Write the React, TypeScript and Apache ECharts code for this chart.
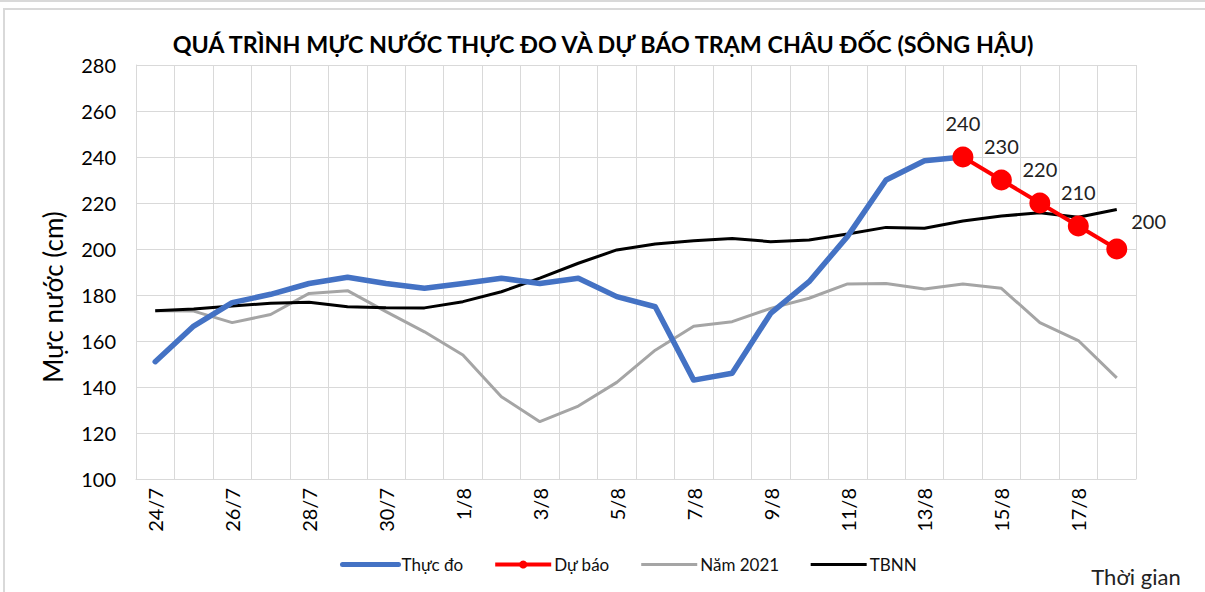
import React, { useEffect, useRef } from "react";
import * as echarts from "echarts";

const titleText = "QUÁ TRÌNH MỰC NƯỚC THỰC ĐO VÀ DỰ BÁO TRẠM CHÂU ĐỐC (SÔNG HẬU)";
const categories = [
  "24/7", "25/7", "26/7", "27/7", "28/7", "29/7", "30/7", "31/7",
  "1/8", "2/8", "3/8", "4/8", "5/8", "6/8", "7/8", "8/8", "9/8", "10/8",
  "11/8", "12/8", "13/8", "14/8", "15/8", "16/8", "17/8", "18/8",
];
const thucDo: (number | string)[] = [
  151, 166.5, 176.7, 180.3, 185, 187.7, 185, 182.9,
  185, 187.3, 185, 187.3, 179.3, 174.9, 143, 146, 172, 185.8,
  205.5, 230, 238.4, 240, "-", "-", "-", "-",
];
const duBao: (number | string)[] = [
  "-", "-", "-", "-", "-", "-", "-", "-",
  "-", "-", "-", "-", "-", "-", "-", "-", "-", "-",
  "-", "-", "-", 240, 230, 220, 210, 200,
];
const nam2021 = [
  173.2, 173, 168, 171.5, 180.7, 181.9, 172.8, 164,
  153.9, 135.8, 124.9, 131.7, 142, 156, 166.4, 168.4, 174.2, 178.6,
  184.8, 185, 182.6, 184.8, 182.9, 168, 160.2, 144,
];
const tbnn = [
  173.2, 173.9, 175.2, 176.4, 176.8, 174.9, 174.5, 174.4,
  177.1, 181.4, 187.3, 193.8, 199.6, 202.2, 203.6, 204.6, 203.2, 203.9,
  206.5, 209.4, 209, 212.2, 214.3, 215.8, 213.8, 217.2,
];
const yMin = 100;
const yMax = 280;
const yStep = 20;
const seriesNames = ["Thực đo", "Dự báo", "Năm 2021", "TBNN"];
const yAxisTitle = "Mực nước (cm)";
const xAxisTitle = "Thời gian";

const FONT = "Lato, 'Open Sans', sans-serif";
const hiddenSymbol = { color: "rgba(0,0,0,0)", borderWidth: 0, opacity: 0 };

export default function App() {
  const ref = useRef<HTMLDivElement>(null);
  useEffect(() => {
    if (!ref.current) return;
    const chart = echarts.init(ref.current, null, { renderer: "svg" });
    const duBaoData = duBao.map((v, i) => {
      if (v === "-") return v;
      if (i === duBao.length - 1) {
        return { value: v, label: { position: "right", offset: [0, -28], distance: 4 } };
      }
      return v;
    });
    chart.setOption({
      animation: false,
      backgroundColor: "#ffffff",
      textStyle: { fontFamily: FONT },
      title: {
        text: titleText,
        left: 598,
        textAlign: "center",
        top: 27,
        textStyle: { fontSize: 23.3, fontWeight: "bold", color: "#000", fontFamily: FONT },
      },
      grid: { left: 136, right: 69, top: 65, bottom: 113, containLabel: false },
      legend: {
        bottom: 14,
        left: 335,
        itemWidth: 56,
        itemHeight: 10,
        itemGap: 30,
        textStyle: { fontSize: 17, color: "#111", fontFamily: FONT, padding: [0, 0, 0, -2] },
        data: [
          { name: seriesNames[0], itemStyle: hiddenSymbol, lineStyle: { width: 5, cap: "round" } },
          { name: seriesNames[1], lineStyle: { width: 4 } },
          { name: seriesNames[2], itemStyle: hiddenSymbol, lineStyle: { width: 3 } },
          { name: seriesNames[3], itemStyle: hiddenSymbol, lineStyle: { width: 3 } },
        ],
      },
      xAxis: {
        type: "category",
        data: categories,
        boundaryGap: true,
        axisLine: { show: true, lineStyle: { color: "#d9d9d9", width: 1 } },
        axisTick: { show: false },
        axisLabel: {
          interval: 1,
          rotate: 90,
          fontSize: 20,
          color: "#000",
          margin: 9,
          fontFamily: FONT,
        },
        splitLine: { show: true, interval: 0, lineStyle: { color: "#d9d9d9", width: 1 } },
      },
      yAxis: {
        type: "value",
        min: yMin,
        max: yMax,
        interval: yStep,
        axisLine: { show: true, lineStyle: { color: "#d9d9d9", width: 1 } },
        axisTick: { show: false },
        axisLabel: { fontSize: 20, color: "#000", margin: 20, fontFamily: FONT },
        splitLine: { show: true, lineStyle: { color: "#d9d9d9", width: 1 } },
      },
      series: [
        {
          name: seriesNames[0],
          type: "line",
          data: thucDo,
          symbol: "none",
          lineStyle: { color: "#4472C4", width: 5.5, cap: "round", join: "round" },
          itemStyle: { color: "#4472C4" },
          z: 3,
        },
        {
          name: seriesNames[1],
          type: "line",
          data: duBaoData,
          symbol: "circle",
          symbolSize: 21,
          lineStyle: { color: "#FF0000", width: 4 },
          itemStyle: { color: "#FF0000" },
          label: {
            show: true,
            position: "top",
            distance: 14,
            fontSize: 20,
            color: "#222",
            fontFamily: FONT,
          },
          z: 4,
        },
        {
          name: seriesNames[2],
          type: "line",
          data: nam2021,
          symbol: "none",
          lineStyle: { color: "#A5A5A5", width: 3 },
          itemStyle: { color: "#A5A5A5" },
          z: 1,
        },
        {
          name: seriesNames[3],
          type: "line",
          data: tbnn,
          symbol: "none",
          lineStyle: { color: "#000000", width: 3 },
          itemStyle: { color: "#000000" },
          z: 2,
        },
      ],
      graphic: [
        {
          type: "rect",
          shape: { x: 4, y: 9, width: 1400, height: 800 },
          style: { fill: "none", stroke: "#d9d9d9", lineWidth: 2 },
          silent: true,
        },
        {
          type: "line",
          shape: { x1: 0, y1: 1, x2: 1205, y2: 1 },
          style: { stroke: "#d9d9d9", lineWidth: 2 },
          silent: true,
        },
        {
          type: "text",
          x: 53,
          y: 297,
          rotation: Math.PI / 2,
          style: {
            text: yAxisTitle,
            fontSize: 26,
            fontFamily: FONT,
            fill: "#000",
            align: "center",
            verticalAlign: "middle",
          },
        },
        {
          type: "text",
          x: 1136,
          y: 576,
          style: {
            text: xAxisTitle,
            fontSize: 22,
            fontFamily: FONT,
            fill: "#222",
            align: "center",
            verticalAlign: "middle",
          },
        },
      ],
    });
    return () => chart.dispose();
  }, []);
  return (
    <div
      ref={ref}
      style={{ position: "fixed", left: 0, top: 0, width: 1205, height: 592, background: "#fff" }}
    />
  );
}
